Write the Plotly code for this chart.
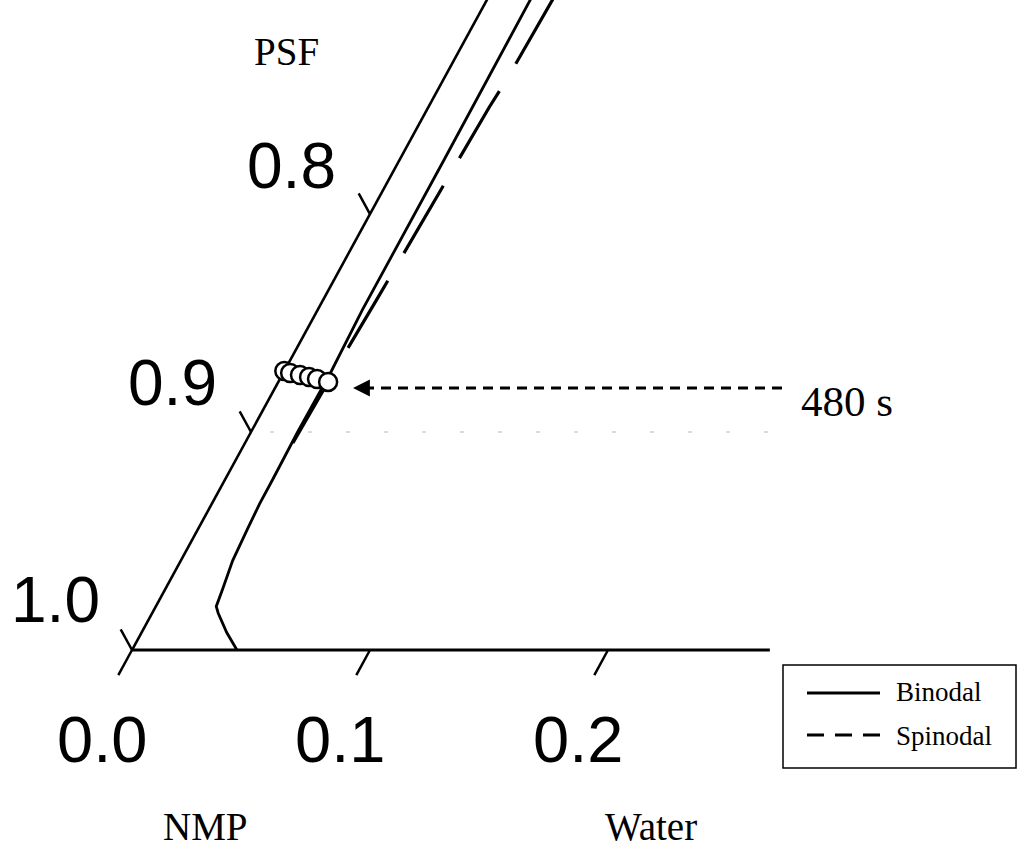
import numpy as np
import plotly.graph_objects as go

# ---------------- data (ternary mass fractions) ----------------
# Binodal: NMP fraction and water fraction (PSF = 1 - NMP - water)
binodal_nmp   = [0.000, 0.008, 0.017, 0.020, 0.028, 0.041, 0.055, 0.067, 0.078, 0.100, 0.116, 0.128, 0.156, 0.225, 0.300]
binodal_water = [0.0441, 0.0358, 0.0277, 0.0254, 0.0241, 0.0218, 0.0208, 0.0201, 0.0200, 0.0196, 0.0197, 0.0198, 0.0188, 0.0187, 0.0182]

# Spinodal (top to bottom)
spinodal_nmp   = [0.300, 0.262, 0.249, 0.218, 0.206, 0.174, 0.162, 0.132, 0.118, 0.107, 0.091]
spinodal_water = [0.0276, 0.0266, 0.0256, 0.0246, 0.0240, 0.0231, 0.0225, 0.0212, 0.0208, 0.0203, 0.0200]

# Composition path at 480 s
path_nmp   = [0.1280, 0.1271, 0.1262, 0.1252, 0.1243, 0.1230]
path_water = [0.0000, 0.0029, 0.0075, 0.0118, 0.0156, 0.0209]

psf_ticks   = [0.8, 0.9, 1.0]
water_ticks = [0.0, 0.1, 0.2]
psf_tick_labels   = ["0.8", "0.9", "1.0"]
water_tick_labels = ["0.0", "0.1", "0.2"]

H = np.sqrt(3) / 2


def to_xy(water, nmp):
    w = np.asarray(water, float)
    n = np.asarray(nmp, float)
    return w + 0.5 * n, H * n


W, HGT = 1019, 852


def px(xp, yp):
    return dict(x=xp / W, y=1 - yp / HGT, xref="paper", yref="paper")


fig = go.Figure()
BLACK = "black"

# triangle edges: left (water = 0), bottom (NMP = 0)
ex, ey = to_xy([0, 0], [0, 0.32])
fig.add_trace(go.Scatter(x=ex, y=ey, mode="lines", line=dict(color=BLACK, width=2.6),
                         showlegend=False, hoverinfo="skip"))
ex, ey = to_xy([0, 0.268], [0, 0])
fig.add_trace(go.Scatter(x=ex, y=ey, mode="lines", line=dict(color=BLACK, width=3.2),
                         showlegend=False, hoverinfo="skip"))

# ticks
L1 = 0.0095
for p in psf_ticks:
    n = 1 - p
    tx, ty = to_xy([0, -L1], [n, n + L1])
    fig.add_trace(go.Scatter(x=tx, y=ty, mode="lines", line=dict(color=BLACK, width=2.5),
                             showlegend=False, hoverinfo="skip"))
L2 = 0.0115
for wt in water_ticks:
    tx, ty = to_xy([wt, wt], [0, -L2])
    fig.add_trace(go.Scatter(x=tx, y=ty, mode="lines", line=dict(color=BLACK, width=2.5),
                             showlegend=False, hoverinfo="skip"))

# faint guide at PSF = 0.9
gx, gy = to_xy([0.058 - 0.05, 0.268 - 0.05], [0.1, 0.1])
fig.add_trace(go.Scatter(x=gx, y=gy, mode="lines",
                         line=dict(color="#cfcfcf", width=1.5, dash="4px,34px"),
                         showlegend=False, hoverinfo="skip"))

# binodal
bx, by = to_xy(binodal_water, binodal_nmp)
fig.add_trace(go.Scatter(x=bx, y=by, mode="lines", name="Binodal",
                         line=dict(color=BLACK, width=2.8), showlegend=False))

# spinodal
sx, sy = to_xy(spinodal_water, spinodal_nmp)
fig.add_trace(go.Scatter(x=sx, y=sy, mode="lines", name="Spinodal",
                         line=dict(color=BLACK, width=3.2, dash="78px,32px"), showlegend=False))

# 480 s composition path
cx, cy = to_xy(path_water, path_nmp)
fig.add_trace(go.Scatter(x=cx, y=cy, mode="markers", name="480 s",
                         marker=dict(symbol="circle", size=18, color="white",
                                     line=dict(color=BLACK, width=2.5)),
                         showlegend=False))

# arrow pointing to 480 s profile
xr = (-0.05546, 0.37269)
yr = (-0.08025, 0.25824)


def dx(xp):
    return xr[0] + xp / W * (xr[1] - xr[0])


def dy(yp):
    return yr[1] - yp / HGT * (yr[1] - yr[0])


fig.add_trace(go.Scatter(x=[dx(782), dx(366)], y=[dy(388), dy(388)], mode="lines",
                         line=dict(color=BLACK, width=3, dash="10px,7px"),
                         showlegend=False, hoverinfo="skip"))
fig.add_annotation(x=dx(353), y=dy(388), xref="x", yref="y", ax=dx(370), ay=dy(388),
                   axref="x", ayref="y", text="", showarrow=True, arrowhead=2,
                   arrowsize=1.3, arrowwidth=2.6, arrowcolor=BLACK)

# texts
serif = "Liberation Serif"
sans = "Liberation Sans"
fig.add_annotation(text="PSF", showarrow=False, font=dict(family=serif, size=39, color=BLACK),
                   xanchor="center", yanchor="middle", **px(286, 51))
fig.add_annotation(text="NMP", showarrow=False, font=dict(family=serif, size=39, color=BLACK),
                   xanchor="center", yanchor="middle", **px(205, 826))
fig.add_annotation(text="Water", showarrow=False, font=dict(family=serif, size=39, color=BLACK),
                   xanchor="center", yanchor="middle", **px(651, 826))
fig.add_annotation(text="480 s", showarrow=False, font=dict(family=serif, size=43, color=BLACK),
                   xanchor="center", yanchor="middle", **px(847, 401))

for lab, (xp, yp) in zip(psf_tick_labels, [(291, 166), (172, 383), (55, 600)]):
    fig.add_annotation(text=lab, showarrow=False, font=dict(family=sans, size=64, color=BLACK),
                       xanchor="center", yanchor="middle", **px(xp, yp))
for lab, (xp, yp) in zip(water_tick_labels, [(102, 739), (340, 739), (578, 739)]):
    fig.add_annotation(text=lab, showarrow=False, font=dict(family=sans, size=65, color=BLACK),
                       xanchor="center", yanchor="middle", **px(xp, yp))

# legend box (drawn)
fig.add_shape(type="rect", xref="paper", yref="paper",
              x0=783 / W, x1=1016 / W, y0=1 - 768 / HGT, y1=1 - 665 / HGT,
              line=dict(color=BLACK, width=1.5), fillcolor="white")
fig.add_shape(type="line", xref="paper", yref="paper",
              x0=807 / W, x1=880 / W, y0=1 - 693 / HGT, y1=1 - 693 / HGT,
              line=dict(color=BLACK, width=2.8))
fig.add_shape(type="line", xref="paper", yref="paper",
              x0=807 / W, x1=880 / W, y0=1 - 735 / HGT, y1=1 - 735 / HGT,
              line=dict(color=BLACK, width=2.8, dash="17px,11px"))
fig.add_annotation(text="Binodal", showarrow=False, font=dict(family=serif, size=27, color=BLACK),
                   xanchor="left", yanchor="middle", **px(894, 692))
fig.add_annotation(text="Spinodal", showarrow=False, font=dict(family=serif, size=27, color=BLACK),
                   xanchor="left", yanchor="middle", **px(894, 736))

fig.update_layout(
    width=W, height=HGT,
    margin=dict(l=0, r=0, t=0, b=0),
    paper_bgcolor="white", plot_bgcolor="white",
    xaxis=dict(range=list(xr), visible=False, fixedrange=True),
    yaxis=dict(range=list(yr), visible=False, fixedrange=True),
    showlegend=False,
)

fig.write_html("out.html", config={"displayModeBar": False},
               post_script="document.body.style.margin='0';document.body.style.overflow='hidden';")
